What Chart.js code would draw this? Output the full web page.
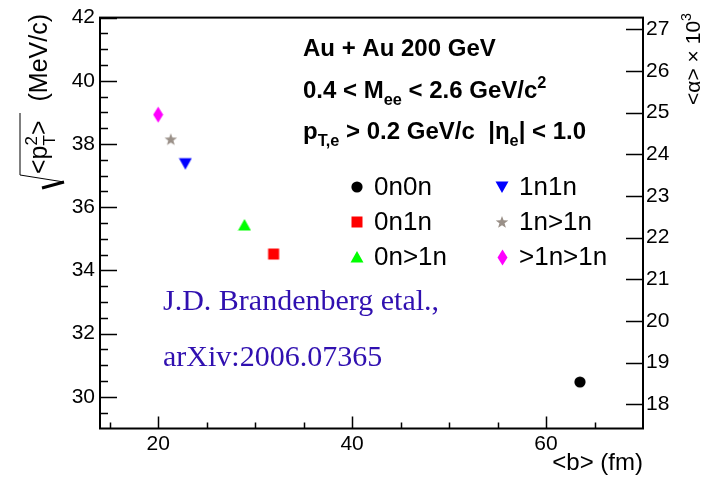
<!DOCTYPE html>
<html>
<head>
<meta charset="utf-8">
<script src="https://cdn.jsdelivr.net/npm/chart.js@4.4.0/dist/chart.umd.min.js"></script>
<style>
  html, body { margin: 0; padding: 0; background: #fff; }
</style>
</head>
<body>
<canvas id="myChart" width="705" height="477"></canvas>
<script>
"use strict";
// neutron emission classes, <b> and sqrt(<pT^2>)
const tags = ["0n0n", "0n1n", "0n>1n", "1n1n", "1n>1n", ">1n>1n"];
const meanB = [63.5, 31.9, 28.9, 22.8, 21.3, 20.0];
const rmsPt = [30.47, 34.52, 35.44, 37.38, 38.15, 38.93];
const markerColors = ["#000000", "#ff0000", "#00ff00", "#0000ff", "#9a9088", "#ff00ff"];
const markerShapes = ["circle", "square", "triUp", "triDown", "star", "diamond"];

const xTicks = [20, 40, 60];
const xMinor = [15, 25, 30, 35, 45, 50, 55, 65];
const leftTicks = [30, 32, 34, 36, 38, 40, 42];
const rightTicks = [18, 19, 20, 21, 22, 23, 24, 25, 26, 27];
const xRange = [14, 70];
const leftRange = [29, 42];
const rightRange = [17.42, 27.28];

const SANS = "'Liberation Sans', Arial, sans-serif";
const SERIF = "'Liberation Serif', 'Times New Roman', serif";

function makeMarker(shape, color) {
  const c = document.createElement("canvas");
  const w = shape === "diamond" ? 11 : 14;
  const h = shape === "diamond" ? 17 : 14;
  c.width = w;
  c.height = h;
  const g = c.getContext("2d");
  const cx = w / 2, cy = h / 2;
  g.fillStyle = color;
  g.beginPath();
  if (shape === "circle") {
    g.arc(cx, cy, 5.6, 0, Math.PI * 2);
  } else if (shape === "square") {
    g.rect(cx - 5.5, cy - 5.5, 11, 11);
  } else if (shape === "triUp") {
    g.moveTo(cx, cy - 6);
    g.lineTo(cx + 6.5, cy + 5.5);
    g.lineTo(cx - 6.5, cy + 5.5);
  } else if (shape === "triDown") {
    g.moveTo(cx, cy + 6);
    g.lineTo(cx + 6.5, cy - 5.5);
    g.lineTo(cx - 6.5, cy - 5.5);
  } else if (shape === "star") {
    for (let i = 0; i < 10; i++) {
      const r = i % 2 ? 2.7 : 6.6;
      const a = -Math.PI / 2 + i * Math.PI / 5;
      g.lineTo(cx + r * Math.cos(a), cy + 0.5 + r * Math.sin(a));
    }
  } else if (shape === "diamond") {
    g.moveTo(cx, cy - 8);
    g.lineTo(cx + 5, cy);
    g.lineTo(cx, cy + 8);
    g.lineTo(cx - 5, cy);
  }
  g.closePath();
  g.fill();
  return c;
}

// draw a line of text made of pieces: [text] plain, [text,"sub"], [text,"sup"], [sup,"stack",sub]
function richText(ctx, parts, x, y, align, size, weight, family) {
  const font = (s) => `${weight} ${s}px ${family}`;
  const small = size * 0.68;
  let total = 0;
  const items = parts.map((p) => {
    let w;
    if (p[1] === "stack") {
      ctx.font = font(small);
      w = Math.max(ctx.measureText(p[0]).width, ctx.measureText(p[2]).width);
    } else {
      ctx.font = font(p[1] ? small : size);
      w = ctx.measureText(p[0]).width;
    }
    total += w;
    return { p, w };
  });
  let cx = align === "right" ? x - total : x;
  ctx.textAlign = "left";
  ctx.textBaseline = "alphabetic";
  items.forEach(({ p, w }) => {
    if (p[1] === "stack") {
      ctx.font = font(small);
      ctx.fillText(p[0], cx, y - size * 0.42);
      ctx.fillText(p[2], cx, y + size * 0.3);
    } else if (p[1] === "sub") {
      ctx.font = font(small);
      ctx.fillText(p[0], cx, y + size * 0.3);
    } else if (p[1] === "sup") {
      ctx.font = font(small);
      ctx.fillText(p[0], cx, y - size * 0.42);
    } else {
      ctx.font = font(size);
      ctx.fillText(p[0], cx, y);
    }
    cx += w;
  });
  return total;
}

const datasets = tags.map((t, i) => ({
  label: t,
  data: [{ x: meanB[i], y: rmsPt[i] }],
  pointStyle: makeMarker(markerShapes[i], markerColors[i]),
  pointRadius: 6,
  pointHoverRadius: 6,
  showLine: false,
  yAxisID: "y",
}));

// frame with ROOT style inward ticks
const framePlugin = {
  id: "frame",
  afterDraw(chart) {
    const { ctx, chartArea: a, scales } = chart;
    ctx.save();
    ctx.strokeStyle = "#000";
    ctx.lineWidth = 1.5;
    ctx.beginPath();
    leftTicks.forEach((v) => {
      const y = Math.round(scales.y.getPixelForValue(v)) + 0.5;
      ctx.moveTo(a.left, y);
      ctx.lineTo(a.left + 17, y);
    });
    for (let v = leftRange[0] + 0.5; v < leftRange[1]; v += 0.5) {
      if (leftTicks.includes(v)) continue;
      const y = Math.round(scales.y.getPixelForValue(v)) + 0.5;
      ctx.moveTo(a.left, y);
      ctx.lineTo(a.left + 8, y);
    }
    rightTicks.forEach((v) => {
      const y = Math.round(scales.y2.getPixelForValue(v)) + 0.5;
      ctx.moveTo(a.right, y);
      ctx.lineTo(a.right - 17, y);
    });
    xTicks.forEach((v) => {
      const x = Math.round(scales.x.getPixelForValue(v)) + 0.5;
      ctx.moveTo(x, a.bottom);
      ctx.lineTo(x, a.bottom - 12);
    });
    xMinor.forEach((v) => {
      const x = Math.round(scales.x.getPixelForValue(v)) + 0.5;
      ctx.moveTo(x, a.bottom);
      ctx.lineTo(x, a.bottom - 6);
    });
    ctx.stroke();
    ctx.lineWidth = 2;
    ctx.strokeRect(a.left, a.top, a.right - a.left, a.bottom - a.top);
    ctx.restore();
  },
};

const textPlugin = {
  id: "texts",
  afterDraw(chart) {
    const ctx = chart.ctx;
    ctx.save();
    ctx.fillStyle = "#000";

    // x title
    richText(ctx, [["<b> (fm)"]], 643, 470, "right", 24, "normal", SANS);

    // left y title with radical sign
    ctx.save();
    ctx.translate(47, 187);
    ctx.rotate(-Math.PI / 2);
    ctx.lineJoin = "miter";
    ctx.strokeStyle = "#000";
    ctx.lineWidth = 1;
    ctx.beginPath();
    ctx.moveTo(12, -27);
    ctx.lineTo(74, -27);
    ctx.moveTo(12, -27);
    ctx.lineTo(5, 17);
    ctx.stroke();
    ctx.lineWidth = 3;
    ctx.beginPath();
    ctx.moveTo(5, 17);
    ctx.lineTo(-1, -5);
    ctx.stroke();
    richText(ctx, [["<p"], ["2", "stack", "T"], [">"]], 13, 0, "left", 25, "normal", SANS);
    richText(ctx, [["(MeV/c)"]], 173, 0, "right", 25, "normal", SANS);
    ctx.restore();

    // right y title
    ctx.save();
    ctx.translate(700, 477);
    ctx.rotate(-Math.PI / 2);
    richText(ctx, [["<\u03b1> \u00d7 10"], ["3", "sup"]], 464, 0, "right", 21, "normal", SANS);
    ctx.restore();

    // header
    richText(ctx, [["Au + Au 200 GeV"]], 303, 56, "left", 24, "bold", SANS);
    richText(ctx, [["0.4 < M"], ["ee", "sub"], [" < 2.6 GeV/c"], ["2", "sup"]], 303, 98, "left", 24, "bold", SANS);
    richText(ctx, [["p"], ["T,e", "sub"], [" > 0.2 GeV/c  |\u03b7"], ["e", "sub"], ["| < 1.0"]], 303, 139, "left", 24, "bold", SANS);

    // legend, two columns of three
    chart.data.datasets.forEach((ds, i) => {
      const col = i < 3 ? 0 : 1;
      const row = i % 3;
      const mx = col ? 502 : 357;
      const my = 187 + row * 35;
      const img = ds.pointStyle;
      ctx.drawImage(img, Math.round(mx - img.width / 2), Math.round(my - img.height / 2));
      ctx.font = `26px ${SANS}`;
      ctx.textAlign = "left";
      ctx.textBaseline = "middle";
      ctx.fillText(ds.label, mx + 17, my + 1);
    });

    // reference note
    ctx.fillStyle = "#3010b0";
    ctx.font = `30px ${SERIF}`;
    ctx.textAlign = "left";
    ctx.textBaseline = "alphabetic";
    ctx.fillText("J.D. Brandenberg etal.,", 163, 310);
    ctx.fillText("arXiv:2006.07365", 163, 366);
    ctx.restore();
  },
};

const tickFont = { family: SANS, size: 21 };

const ctx = document.getElementById("myChart");
const myChart = new Chart(ctx, {
  type: "scatter",
  data: { datasets: datasets },
  options: {
    responsive: false,
    animation: false,
    devicePixelRatio: 1,
    layout: { padding: { top: 15, left: 0, right: 0, bottom: 0 } },
    plugins: {
      legend: { display: false },
      tooltip: { enabled: false },
    },
    scales: {
      x: {
        type: "linear",
        position: "bottom",
        min: xRange[0],
        max: xRange[1],
        grid: { display: false, drawTicks: false },
        border: { display: false },
        ticks: { font: tickFont, color: "#000", padding: 3, maxRotation: 0 },
        afterBuildTicks: (s) => { s.ticks = xTicks.map((v) => ({ value: v })); },
        afterFit: (s) => { s.height = 48.5; },
      },
      y: {
        type: "linear",
        position: "left",
        min: leftRange[0],
        max: leftRange[1],
        grid: { display: false, drawTicks: false },
        border: { display: false },
        ticks: { font: tickFont, color: "#000", padding: 5 },
        afterBuildTicks: (s) => { s.ticks = leftTicks.map((v) => ({ value: v })); },
        afterFit: (s) => { s.width = 100; },
      },
      y2: {
        type: "linear",
        position: "right",
        min: rightRange[0],
        max: rightRange[1],
        grid: { display: false, drawTicks: false },
        border: { display: false },
        ticks: { font: tickFont, color: "#000", padding: 3 },
        afterBuildTicks: (s) => { s.ticks = rightTicks.map((v) => ({ value: v })); },
        afterFit: (s) => { s.width = 62; },
      },
    },
  },
  plugins: [framePlugin, textPlugin],
});
</script>
</body>
</html>
